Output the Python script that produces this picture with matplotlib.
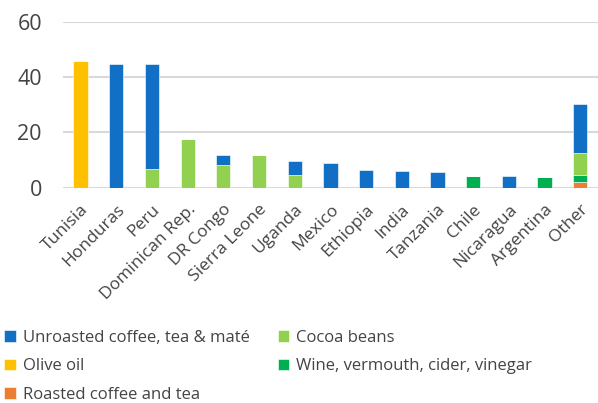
import numpy as np
import matplotlib.pyplot as plt

plt.rcParams['font.family'] = ['Open Sans', 'DejaVu Sans']

countries = ["Tunisia", "Honduras", "Peru", "Dominican Rep.", "DR Congo", "Sierra Leone",
             "Uganda", "Mexico", "Ethiopia", "India", "Tanzania", "Chile", "Nicaragua",
             "Argentina", "Other"]
roasted = [0, 0, 0, 0, 0, 0, 0, 0, 0, 0, 0, 0, 0, 0, 2.1]
wine = [0, 0, 0, 0, 0, 0, 0, 0, 0, 0, 0, 4.2, 0, 3.9, 2.6]
cocoa = [0, 0, 6.8, 17.6, 8.2, 11.8, 4.6, 0, 0, 0, 0, 0, 0, 0, 7.7]
olive = [45.8, 0, 0, 0, 0, 0, 0, 0, 0, 0, 0, 0, 0, 0, 0]
unroasted = [0, 44.9, 38.1, 0, 3.6, 0, 5.0, 9.0, 6.4, 6.0, 5.6, 0, 4.2, 0, 17.8]

series = [
    ("Roasted coffee and tea", roasted, "#ED7D31"),
    ("Wine, vermouth, cider, vinegar", wine, "#00B050"),
    ("Cocoa beans", cocoa, "#92D050"),
    ("Olive oil", olive, "#FFC000"),
    ("Unroasted coffee, tea & maté", unroasted, "#1170C6"),
]

fig = plt.figure(figsize=(5.98, 4.03), dpi=100)
ax = fig.add_axes([0.105, 0.534, 0.895, 0.412])

x = np.arange(len(countries))
bottom = np.zeros(len(countries))
bars = {}
for name, vals, color in series:
    bars[name] = ax.bar(x, vals, bottom=bottom, width=0.4, color=color,
                        edgecolor="white", linewidth=0.4, zorder=3)
    bottom += np.array(vals)

ax.set_ylim(0, 60)
ax.set_xlim(-0.5, len(countries) - 0.5)
ax.set_yticks([0, 20, 40, 60])
ax.grid(axis="y", color="#d9d9d9", linewidth=1.5, zorder=0)
for s in ax.spines.values():
    s.set_visible(False)
ax.tick_params(axis="both", length=0, colors="#444444")
ax.tick_params(axis="y", pad=15, labelsize=15.5)
ax.tick_params(axis="x", pad=10)
ax.set_xticks(x)
ax.set_xticklabels(countries, rotation=45, ha="right", rotation_mode="anchor", fontsize=12.5)

order = ["Unroasted coffee, tea & maté", "Olive oil", "Roasted coffee and tea",
         "Cocoa beans", "Wine, vermouth, cider, vinegar"]
fig.legend([bars[n] for n in order], order, ncol=2, loc="lower left",
           bbox_to_anchor=(-0.018, -0.036), frameon=False, fontsize=12,
           handlelength=0.7, handleheight=0.7, handletextpad=0.4,
           columnspacing=1.7, labelspacing=0.74, labelcolor="#444444")

fig.savefig("out.png", dpi=100)
